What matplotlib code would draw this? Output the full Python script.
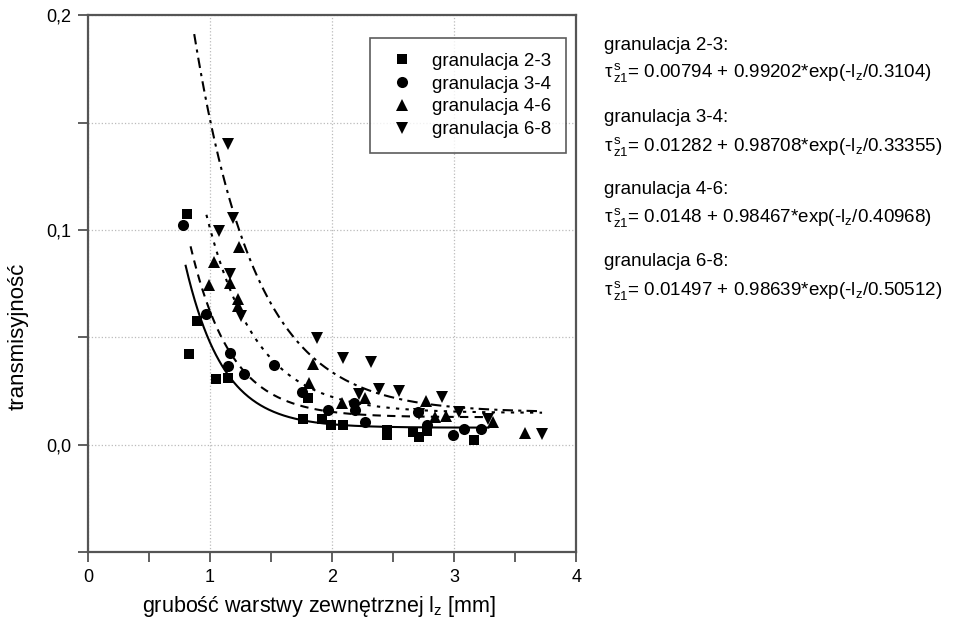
import numpy as np
import matplotlib
matplotlib.use('Agg')
import matplotlib.pyplot as plt
from matplotlib.ticker import MultipleLocator, FuncFormatter

# dane pomiarowe
x_23 = [0.81, 0.89, 0.83, 1.05, 1.15, 1.76, 1.80, 1.92, 1.99, 2.09, 2.45, 2.45, 2.66, 2.71, 2.78, 3.16]
y_23 = [0.1074, 0.0577, 0.0423, 0.0307, 0.0312, 0.0121, 0.0219, 0.0121, 0.0093, 0.0093, 0.0070, 0.0047,
        0.0060, 0.0037, 0.0065, 0.0023]

x_34 = [0.78, 0.97, 1.16, 1.15, 1.28, 1.52, 1.75, 1.97, 2.18, 2.19, 2.27, 2.70, 2.78, 2.99, 3.08, 3.22]
y_34 = [0.1023, 0.0610, 0.0428, 0.0367, 0.0330, 0.0372, 0.0247, 0.0163, 0.0195, 0.0160, 0.0107, 0.0153,
        0.0093, 0.0047, 0.0074, 0.0074]

x_46 = [0.99, 1.03, 1.16, 1.23, 1.23, 1.24, 1.81, 1.84, 2.08, 2.27, 2.77, 2.84, 2.93, 3.32, 3.58]
y_46 = [0.0744, 0.0851, 0.0754, 0.0679, 0.0647, 0.0921, 0.0288, 0.0377, 0.0195, 0.0219, 0.0205, 0.0130,
        0.0135, 0.0105, 0.0055]

x_68 = [1.15, 1.19, 1.07, 1.16, 1.25, 1.88, 2.09, 2.32, 2.22, 2.38, 2.55, 2.90, 2.71, 3.04, 3.28, 3.72]
y_68 = [0.140, 0.1056, 0.0995, 0.0795, 0.0600, 0.0498, 0.0405, 0.0386, 0.0237, 0.0260, 0.0251, 0.0223,
        0.0144, 0.0153, 0.0121, 0.0050]

# parametry dopasowania: y0, A, t  oraz zakres krzywej
fit_23 = (0.00794, 0.99202, 0.3104)
fit_34 = (0.01282, 0.98708, 0.33355)
fit_46 = (0.0148, 0.98467, 0.40968)
fit_68 = (0.01497, 0.98639, 0.50512)
range_23 = (0.80, 3.28)
range_34 = (0.84, 3.30)
range_46 = (0.97, 3.72)
range_68 = (0.87, 3.72)

labels = ['granulacja 2-3', 'granulacja 3-4', 'granulacja 4-6', 'granulacja 6-8']
fit_texts = ['0.00794 + 0.99202*exp(-l$_{\\mathrm{z}}$/0.3104)',
             '0.01282 + 0.98708*exp(-l$_{\\mathrm{z}}$/0.33355)',
             '0.0148 + 0.98467*exp(-l$_{\\mathrm{z}}$/0.40968)',
             '0.01497 + 0.98639*exp(-l$_{\\mathrm{z}}$/0.50512)']

plt.rcParams['font.family'] = ['Liberation Sans', 'DejaVu Sans']
plt.rcParams['mathtext.fontset'] = 'custom'
plt.rcParams['mathtext.rm'] = 'Liberation Sans'
plt.rcParams['mathtext.it'] = 'Liberation Sans'

fig = plt.figure(figsize=(9.62, 6.31), dpi=100)
ax = fig.add_axes([0.0915, 0.125, 0.5075, 0.851])

series = [(x_23, y_23, fit_23, range_23, 's', 7.5, '-'),
          (x_34, y_34, fit_34, range_34, 'o', 8, (0, (4, 3))),
          (x_46, y_46, fit_46, range_46, '^', 8.5, (0, (1.6, 3))),
          (x_68, y_68, fit_68, range_68, 'v', 8.5, (0, (5, 2.5, 1.5, 2.5)))]

for (xs, ys, fit, rng, mk, ms, ls), lab in zip(series, labels):
    ax.plot(xs, ys, linestyle='none', marker=mk, markersize=ms, color='black',
            markeredgewidth=0, label=lab, zorder=3)
    xx = np.linspace(rng[0], rng[1], 300)
    y0, a, t = fit
    ax.plot(xx, y0 + a * np.exp(-xx / t), color='black', linestyle=ls, linewidth=1.5, zorder=2)

ax.set_xlim(0, 4)
ax.set_ylim(-0.05, 0.2)
ax.xaxis.set_major_locator(MultipleLocator(1))
ax.xaxis.set_minor_locator(MultipleLocator(0.5))
ax.yaxis.set_major_locator(MultipleLocator(0.05))


def yfmt(v, pos):
    if abs(round(v * 10) - v * 10) < 1e-6:
        return ('%.1f' % v).replace('.', ',').replace('-0,0', '0,0')
    return ''


ax.yaxis.set_major_formatter(FuncFormatter(yfmt))
ax.tick_params(which='both', direction='out', length=7, width=1.2, color='#444444',
               labelsize=13, pad=5)
ax.grid(True, which='major', color='#bbbbbb', linestyle=':', linewidth=0.9)
for s in ax.spines.values():
    s.set_color('#555555')
    s.set_linewidth(1.6)

ax.set_xlabel('grubość warstwy zewnętrznej l$_{\\mathrm{z}}$ [mm]', fontsize=15.5, va='center')
ax.set_ylabel('transmisyjność', fontsize=16, va='center')
ax.xaxis.set_label_coords(0.473, -0.102)
ax.yaxis.set_label_coords(-0.143, 0.402)

leg = ax.legend(loc='upper left', bbox_to_anchor=(0.578, 0.958), fontsize=13.5,
                frameon=True, fancybox=False, borderpad=0.8, borderaxespad=0,
                handletextpad=0.7, labelspacing=0.3, handlelength=1.8)
leg.get_frame().set_edgecolor('#333333')
leg.get_frame().set_linewidth(1.2)

# opisy dopasowania po prawej stronie
y_top = [45, 118, 190, 262]
for yt, lab, ft in zip(y_top, labels, fit_texts):
    fig.text(604 / 962, 1 - yt / 631, lab + ':', fontsize=13.5, va='center', ha='left')
    fig.text(604 / 962, 1 - (yt + 28) / 631,
             'τ$^{\\,\\mathrm{s}}_{\\,\\mathrm{z1}}$= ' + ft, fontsize=13.5, va='center', ha='left')

plt.savefig('out.png', dpi=100)
